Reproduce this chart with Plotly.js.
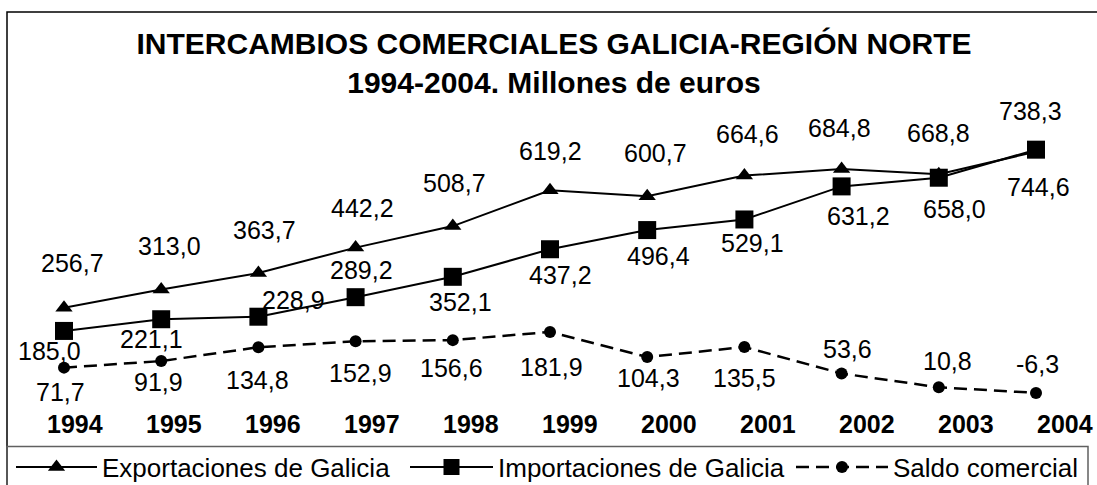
<!DOCTYPE html>
<html><head><meta charset="utf-8">
<script src="https://cdn.plot.ly/plotly-3.0.1.min.js"></script>
<style>html,body{margin:0;padding:0;background:#fff}#chart{width:1097px;height:485px}</style>
</head><body><div id="chart"></div>
<script>
// ---- data ----
const years = [1994, 1995, 1996, 1997, 1998, 1999, 2000, 2001, 2002, 2003, 2004];
const exportaciones = [256.7, 313.0, 363.7, 442.2, 508.7, 619.2, 600.7, 664.6, 684.8, 668.8, 738.3];
const importaciones = [185.0, 221.1, 228.9, 289.2, 352.1, 437.2, 496.4, 529.1, 631.2, 658.0, 744.6];
const saldo = [71.7, 91.9, 134.8, 152.9, 156.6, 181.9, 104.3, 135.5, 53.6, 10.8, -6.3];
const seriesNames = ['Exportaciones de Galicia', 'Importaciones de Galicia', 'Saldo comercial'];
const titleLines = ['INTERCAMBIOS COMERCIALES GALICIA-REGIÓN NORTE', '1994-2004. Millones de euros'];

// ---- label offsets (px, style only) ----
const expOff = [[8,-45],[8,-43],[6,-43],[7,-40],[2,-43],[0,-39],[8,-43],[3,-42],[-2,-41],[0,-41],[-6,-41]];
const impOff = [[-15,20],[-10,20],[35,-17],[6,-27],[8,25],[10,26],[11,26],[8,24],[17,30],[16,31],[2,37]];
const salOff = [[-4,24],[-3,21],[-1,33],[5,32],[-1,28],[1,35],[1,21],[0,31],[6,-24],[9,-26],[1,-29]];

const FONT = 'Liberation Sans, Arial, sans-serif';
const W = 1097, H = 485;
const fmt = v => v.toFixed(1).replace('.', ',');

const traces = [
  {x: years, y: exportaciones, name: seriesNames[0], legend: 'legend', mode: 'lines+markers', cliponaxis: false, hoverinfo: 'skip',
   line: {color: '#000', width: 2}, marker: {symbol: 'triangle-up', size: 15, color: '#000'}},
  {x: years, y: importaciones, name: seriesNames[1], legend: 'legend2', mode: 'lines+markers', cliponaxis: false, hoverinfo: 'skip',
   line: {color: '#000', width: 2}, marker: {symbol: 'square', size: 18, color: '#000'}},
  {x: years, y: saldo, name: seriesNames[2], legend: 'legend3', mode: 'lines+markers', cliponaxis: false, hoverinfo: 'skip',
   line: {color: '#000', width: 2.5, dash: '13px,7px'}, marker: {symbol: 'circle', size: 12, color: '#000'}},
  // carrier for the category (year) axis
  {x: years, y: years.map(() => null), xaxis: 'x2', yaxis: 'y', mode: 'lines', showlegend: false, hoverinfo: 'skip'}
];

const annotations = [];
function addLabels(vals, off) {
  vals.forEach((v, i) => {
    annotations.push({x: years[i], y: v, xref: 'x', yref: 'y', text: fmt(v), showarrow: false,
      xanchor: 'center', yanchor: 'middle', xshift: off[i][0], yshift: -off[i][1],
      font: {family: FONT, size: 25, color: '#000'}});
  });
}
addLabels(exportaciones, expOff);
addLabels(importaciones, impOff);
addLabels(saldo, salOff);

function legendAt(xPx, itemW) {
  return {orientation: 'h', x: xPx / W, xanchor: 'left', y: 1 - 467 / H, yanchor: 'middle',
          font: {family: FONT, size: 26, color: '#000'}, bgcolor: 'rgba(0,0,0,0)', borderwidth: 0,
          itemwidth: itemW};
}

const layout = {
  width: W, height: H, autosize: false,
  margin: {l: 0, r: 0, t: 0, b: 0, pad: 0, autoexpand: false},
  paper_bgcolor: '#fff', plot_bgcolor: 'rgba(0,0,0,0)',
  font: {family: FONT, color: '#000'},
  title: {text: titleLines.join('<br>'), x: 554 / W, xanchor: 'center', xref: 'paper',
          y: 1 - 54 / H, yanchor: 'top', yref: 'container',
          font: {family: FONT, size: 30, weight: 'bold', color: '#000'}},
  xaxis: {domain: [64 / W, 1036 / W], range: [1994, 2004], visible: false, fixedrange: true},
  xaxis2: {domain: [74.85 / W, 1064.85 / W], range: [1994, 2004], anchor: 'free', position: 1 - 407 / H,
           side: 'bottom', tickmode: 'array', tickvals: years, ticktext: years.map(String),
           tickfont: {family: FONT, size: 25, weight: 'bold', color: '#000'},
           showline: false, showgrid: false, zeroline: false, ticks: '', fixedrange: true},
  yaxis: {domain: [1 - 410 / H, 1 - 130 / H], range: [-59.12, 805.34], visible: false, fixedrange: true},
  showlegend: true,
  legend: legendAt(11, 81),
  legend2: legendAt(405, 83),
  legend3: legendAt(791, 92),
  shapes: [
    {type: 'rect', xref: 'paper', yref: 'paper', x0: 7 / W, x1: 1105 / W, y0: -0.05, y1: 1 - 12 / H,
     line: {color: '#000', width: 1.5}, fillcolor: 'rgba(0,0,0,0)', layer: 'below'},
    {type: 'rect', xref: 'paper', yref: 'paper', x0: 7 / W, x1: 1088 / W, y0: -0.05, y1: 1 - 446.5 / H,
     line: {color: '#606060', width: 1.5}, fillcolor: 'rgba(0,0,0,0)', layer: 'below'}
  ],
  annotations: annotations
};

Plotly.newPlot('chart', traces, layout, {staticPlot: true, displayModeBar: false});
</script>
</body></html>
